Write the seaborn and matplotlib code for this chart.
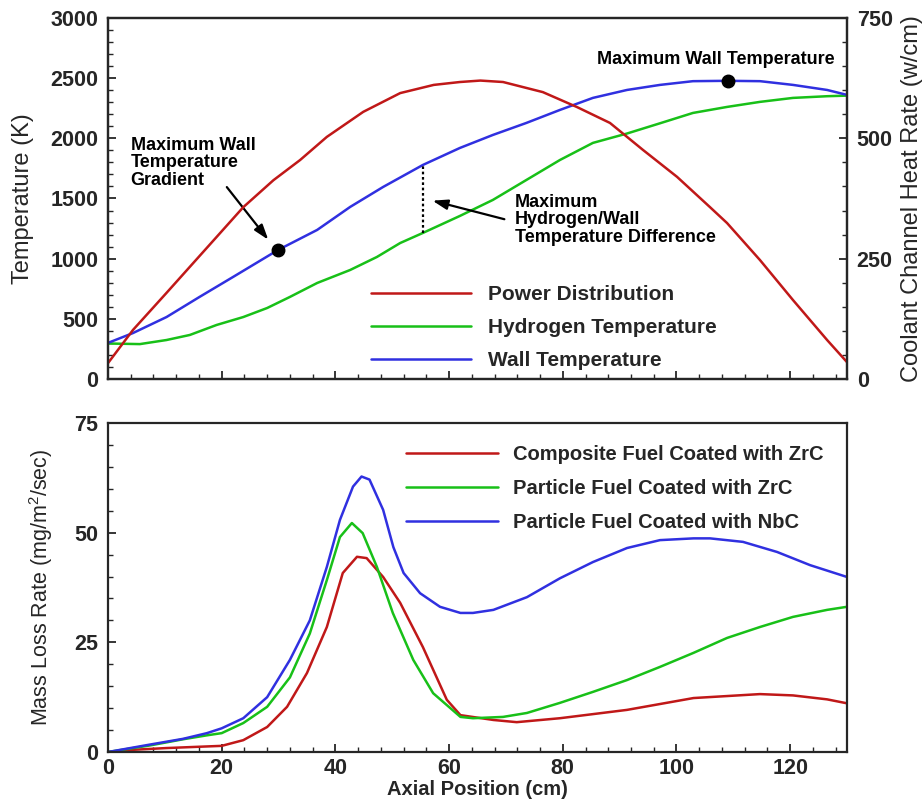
import numpy as np
import pandas as pd
import matplotlib
matplotlib.use("Agg")
import matplotlib.pyplot as plt
from matplotlib.ticker import MultipleLocator
from matplotlib.lines import Line2D
import seaborn as sns

# ---------------- data ----------------
power_x = [0, 4.4, 10.3, 15, 19.1, 23.8, 29.1, 33.8, 38.5, 44.9, 51.4, 57.3, 61.9, 65.5,
           69.5, 76.5, 82.5, 88.3, 94.1, 100.1, 105.9, 108.9, 114.7, 120.5, 126.5, 130]
power_y = [33, 102, 179, 241, 295, 357, 413, 455, 503, 555, 594, 611, 617, 620,
           617, 596, 565, 532, 476, 420, 357, 324, 247, 164, 81, 35]

h2_x = [0, 5.6, 10.3, 14.4, 19.1, 23.8, 28, 32, 36.8, 42.6, 47.3, 51.4, 55.4, 61.9,
        67.7, 73.6, 79.5, 85.3, 91.3, 97.1, 102.9, 108.9, 114.7, 120.5, 126.5, 130]
h2_y = [295, 290, 324, 366, 449, 515, 590, 682, 798, 906, 1014, 1130, 1214, 1355,
        1488, 1654, 1820, 1962, 2040, 2125, 2211, 2261, 2303, 2336, 2350, 2355]

wall_x = [0, 4.4, 10.3, 16.1, 22, 29.9, 36.8, 42.6, 48.4, 55.4, 61.9, 67.7, 73.6,
          79.5, 85.3, 91.3, 97.1, 102.9, 108.9, 114.7, 120.5, 126.5, 130]
wall_y = [300, 382, 515, 682, 848, 1072, 1239, 1430, 1596, 1779, 1920, 2028, 2128,
          2236, 2336, 2402, 2444, 2475, 2478, 2475, 2444, 2402, 2361]

comp_x = [0, 4.4, 10.3, 16.1, 20, 23.8, 28, 31.5, 35, 38.5, 41.3, 43.8, 45.5, 48.4,
          51.4, 55.4, 59.6, 62, 67.8, 71.9, 79.5, 91.3, 103, 114.7, 120.5, 126.5, 130]
comp_y = [0, 0.5, 0.9, 1.2, 1.4, 2.7, 5.7, 10.3, 18, 28.5, 40.8, 44.5, 44.2, 39.9,
          34, 23.9, 11.9, 8.4, 7.3, 6.8, 7.7, 9.6, 12.3, 13.2, 12.9, 12, 11.1]

pzrc_x = [0, 7.4, 13.2, 17.4, 20, 23.8, 28, 32, 35.5, 38.5, 40.8, 42.9, 44.8, 47.3,
          50.1, 53.7, 57.2, 62, 64.2, 69.5, 73.7, 79.5, 85.3, 91.3, 97.1, 103, 108.9,
          114.7, 120.5, 126.5, 130]
pzrc_y = [0, 1.5, 2.9, 3.8, 4.3, 6.6, 10.3, 17, 27, 39.2, 49, 52.2, 49.9, 42.2,
          31.7, 21, 13.4, 8, 7.7, 8, 8.9, 11.2, 13.7, 16.4, 19.4, 22.6, 26,
          28.5, 30.8, 32.4, 33.1]

pnbc_x = [0, 7.4, 13.2, 17.4, 20, 23.8, 28, 32, 35.5, 38.5, 40.8, 43.1, 44.6, 46,
          48.4, 50.2, 52, 54.9, 58.4, 62, 64.2, 67.8, 73.7, 79.5, 85.3, 91.3, 97.1,
          103, 105.9, 111.7, 117.7, 123.5, 130]
pnbc_y = [0, 1.7, 3.0, 4.3, 5.4, 7.7, 12.5, 21, 30, 42.2, 52.9, 60.5, 62.8, 62.1,
          55.2, 46.7, 40.8, 36.2, 33.1, 31.7, 31.7, 32.4, 35.3, 39.6, 43.3, 46.5, 48.3,
          48.7, 48.7, 47.9, 45.6, 42.6, 39.9]

top_labels = ["Power Distribution", "Hydrogen Temperature", "Wall Temperature"]
bot_labels = ["Composite Fuel Coated with ZrC", "Particle Fuel Coated with ZrC",
              "Particle Fuel Coated with NbC"]
colors = ["#c01818", "#18c018", "#3030e0"]

# ---------------- styling ----------------
sns.set_style("ticks")
plt.rcParams["font.family"] = ["Liberation Sans", "DejaVu Sans"]
plt.rcParams["axes.linewidth"] = 1.6
plt.rcParams["mathtext.default"] = "regular"

fig = plt.figure(figsize=(9.24, 8.05), dpi=100)
ax1 = fig.add_axes([108/924, 1-379/805, 739/924, 361/805])
ax2 = fig.add_axes([108/924, 1-752/805, 739/924, 329/805])
ax1r = ax1.twinx()

lw = 1.8
sns.lineplot(data=pd.DataFrame({"x": power_x, "y": power_y}), x="x", y="y", ax=ax1r,
             color=colors[0], lw=lw, sort=False)
sns.lineplot(data=pd.DataFrame({"x": h2_x, "y": h2_y}), x="x", y="y", ax=ax1,
             color=colors[1], lw=lw, sort=False)
sns.lineplot(data=pd.DataFrame({"x": wall_x, "y": wall_y}), x="x", y="y", ax=ax1,
             color=colors[2], lw=lw, sort=False)

for xs, ys, c in [(comp_x, comp_y, colors[0]), (pzrc_x, pzrc_y, colors[1]), (pnbc_x, pnbc_y, colors[2])]:
    sns.lineplot(data=pd.DataFrame({"x": xs, "y": ys}), x="x", y="y", ax=ax2,
                 color=c, lw=lw, sort=False)

# axes limits and ticks
for a in (ax1, ax2):
    a.set_xlim(0, 130)
    a.xaxis.set_major_locator(MultipleLocator(20))
    a.xaxis.set_minor_locator(MultipleLocator(4))
ax1.set_ylim(0, 3000)
ax1.yaxis.set_major_locator(MultipleLocator(500))
ax1.yaxis.set_minor_locator(MultipleLocator(100))
ax1r.set_ylim(0, 750)
ax1r.yaxis.set_major_locator(MultipleLocator(250))
ax1r.yaxis.set_minor_locator(MultipleLocator(50))
ax2.set_ylim(0, 75)
ax2.yaxis.set_major_locator(MultipleLocator(25))
ax2.yaxis.set_minor_locator(MultipleLocator(5))

for a in (ax1, ax2, ax1r):
    a.tick_params(which="major", direction="in", length=6, width=1.3, labelsize=15.5, pad=7)
    a.tick_params(which="minor", direction="in", length=3.5, width=1.0)
    for s in a.spines.values():
        s.set_linewidth(1.6)
        s.set_visible(True)
ax1.tick_params(axis="x", which="both", labelbottom=False, top=False)
ax2.tick_params(axis="x", which="both", top=False, pad=4)
ax2.tick_params(axis="y", which="both", right=False)
ax1.tick_params(axis="y", which="both", right=False)
ax1r.tick_params(axis="y", which="both", left=False)
for a in (ax1, ax2, ax1r):
    for lab in a.get_xticklabels() + a.get_yticklabels():
        lab.set_fontweight("bold")

ax1.set_xlabel("")
ax1.set_ylabel("Temperature (K)", fontsize=17, labelpad=12)
ax1r.set_ylabel("Coolant Channel Heat Rate (w/cm)", fontsize=17, labelpad=6)
ax2.set_ylabel("Mass Loss Rate (mg/m$^2$/sec)", fontsize=15.5, labelpad=14)
ax2.set_xlabel("Axial Position (cm)", fontsize=14.5, fontweight="bold", labelpad=1)

# markers and annotations (top panel)
ax1.plot([29.9], [1072], "o", color="black", ms=9, zorder=5)
ax1.plot([109], [2478], "o", color="black", ms=9, zorder=5)
ax1.plot([55.4, 55.4], [1214, 1779], ls=(0, (1.2, 1.2)), color="black", lw=1.6)

afont = dict(fontsize=13, fontweight="bold", color="black")
arrow = dict(arrowstyle="-|>,head_length=0.9,head_width=0.3", color="black", lw=1.6)
ax1.annotate("", xy=(28.5, 1139), xytext=(20.6, 1613), arrowprops=arrow)
ax1.text(4.0, 2015, "Maximum Wall\nTemperature\nGradient", va="top", ha="left",
         linespacing=1.05, **afont)
ax1.annotate("", xy=(56.6, 1488), xytext=(70.2, 1322), arrowprops=arrow)
ax1.text(71.6, 1540, "Maximum\nHydrogen/Wall\nTemperature Difference", va="top", ha="left",
         linespacing=1.05, **afont)
ax1.text(127.8, 2652, "Maximum Wall Temperature", va="center", ha="right", **afont)

# legends (no frame)
h_top = [Line2D([], [], color=c, lw=lw) for c in colors]
leg1 = ax1.legend(h_top, top_labels, loc="upper left", bbox_to_anchor=(0.345, 0.283),
                  frameon=False, fontsize=15, handlelength=4.8, handletextpad=0.8,
                  labelspacing=0.67, borderaxespad=0)
for t in leg1.get_texts():
    t.set_fontweight("semibold")
h_bot = [Line2D([], [], color=c, lw=lw) for c in colors]
leg2 = ax2.legend(h_bot, bot_labels, loc="upper left", bbox_to_anchor=(0.392, 0.958),
                  frameon=False, fontsize=14.5, handlelength=4.6, handletextpad=0.75,
                  labelspacing=0.75, borderaxespad=0)
for t in leg2.get_texts():
    t.set_fontweight("bold")

fig.savefig("out.png", dpi=100)
